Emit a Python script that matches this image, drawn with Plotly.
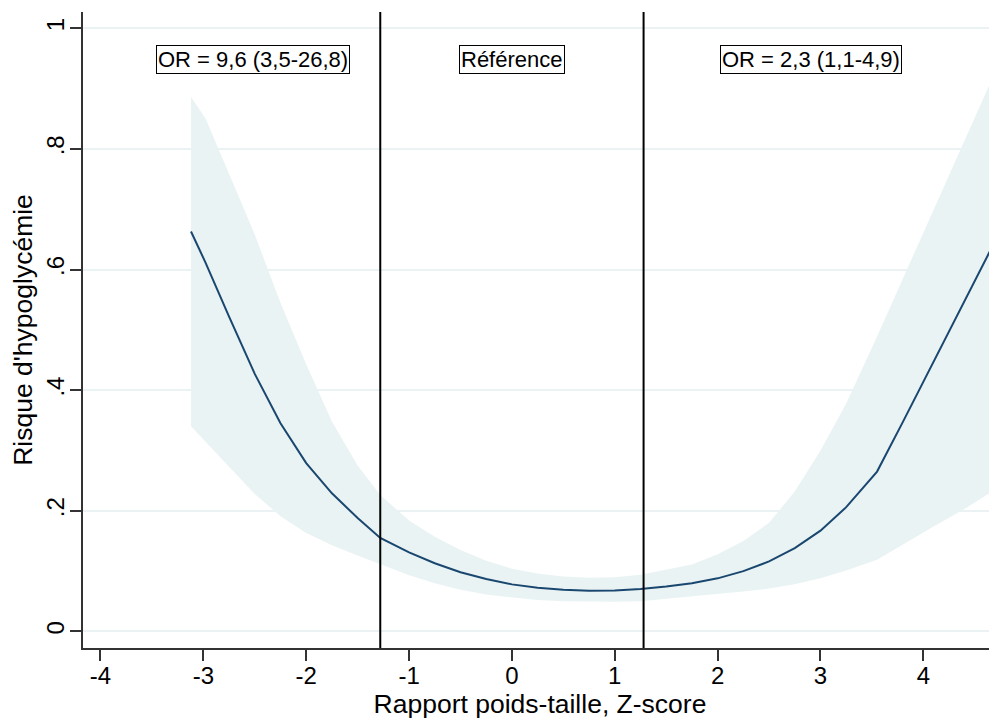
import plotly.graph_objects as go

# Z-score grid
z = [-3.12, -2.98, -2.75, -2.5, -2.25, -2.0, -1.75, -1.5, -1.28, -1.0, -0.75, -0.5,
     -0.25, 0.0, 0.25, 0.5, 0.75, 1.0, 1.25, 1.5, 1.75, 2.0, 2.25, 2.5, 2.75, 3.0,
     3.25, 3.55, 3.8, 4.1, 4.4, 4.67]
# predicted risk
risk = [0.663, 0.612, 0.522, 0.427, 0.345, 0.279, 0.229, 0.188, 0.155, 0.131, 0.113,
        0.098, 0.087, 0.078, 0.0725, 0.069, 0.0675, 0.068, 0.0705, 0.0745, 0.080,
        0.088, 0.100, 0.116, 0.138, 0.167, 0.206, 0.265, 0.347, 0.448, 0.548, 0.638]
# confidence bounds
upper = [0.886, 0.851, 0.759, 0.658, 0.545, 0.443, 0.348, 0.275, 0.226, 0.184, 0.157,
         0.135, 0.117, 0.104, 0.096, 0.091, 0.089, 0.090, 0.094, 0.102, 0.111, 0.128,
         0.150, 0.180, 0.232, 0.300, 0.378, 0.489, 0.585, 0.701, 0.815, 0.917]
lower = [0.340, 0.315, 0.273, 0.228, 0.191, 0.163, 0.143, 0.126, 0.111, 0.093, 0.080,
         0.069, 0.061, 0.056, 0.052, 0.050, 0.049, 0.049, 0.050, 0.053, 0.057, 0.062,
         0.066, 0.071, 0.078, 0.088, 0.101, 0.119, 0.144, 0.174, 0.203, 0.232]

cutoffs = [-1.28, 1.28]
labels = ["OR = 9,6 (3,5-26,8)", "Référence", "OR = 2,3 (1,1-4,9)"]
label_x = [-2.52, 0.0, 2.91]
label_y = 0.949

x_ticks = [-4, -3, -2, -1, 0, 1, 2, 3, 4]
x_ticktext = ["-4", "-3", "-2", "-1", "0", "1", "2", "3", "4"]
y_ticks = [0, 0.2, 0.4, 0.6, 0.8, 1]
y_ticktext = ["0", ".2", ".4", ".6", ".8", "1"]

band_color = "#eaf3f3"
line_color = "#1a476f"
font_family = "Liberation Sans, Arial, Helvetica, sans-serif"

fig = go.Figure()
fig.add_trace(go.Scatter(x=z + z[::-1], y=upper + lower[::-1], fill="toself",
                         fillcolor=band_color, line=dict(width=0), mode="lines",
                         hoverinfo="skip", showlegend=False))
fig.add_trace(go.Scatter(x=z, y=risk, mode="lines",
                         line=dict(color=line_color, width=2), showlegend=False))

for c in cutoffs:
    fig.add_shape(type="line", xref="x", yref="paper", x0=c, x1=c, y0=0, y1=1,
                  line=dict(color="black", width=2))

for t, xx in zip(labels, label_x):
    fig.add_annotation(x=xx, y=label_y, text=t, showarrow=False,
                       font=dict(size=22, color="black", family=font_family),
                       bordercolor="black", borderwidth=1, borderpad=1, bgcolor="white")

fig.update_layout(
    width=989, height=714,
    margin=dict(l=75, r=0, t=4, b=74),
    paper_bgcolor="white", plot_bgcolor="white",
    font=dict(family=font_family, size=22, color="black"),
    xaxis=dict(range=[-4.17, 4.716], tickvals=x_ticks, ticktext=x_ticktext,
               ticks="outside", ticklen=11,
               tickwidth=1.5, tickcolor="#333", showline=True, linecolor="#333",
               linewidth=1.5, showgrid=False, zeroline=False, automargin=False,
               tickfont=dict(size=24), ticklabelstandoff=-6,
               title=dict(text="Rapport poids-taille, Z-score", font=dict(size=26.5), standoff=6)),
    yaxis=dict(range=[-0.0275, 1.027], tickvals=y_ticks, ticktext=y_ticktext,
               ticks="outside", ticklen=11, tickwidth=1.5, tickcolor="#333",
               showline=True, linecolor="#333", linewidth=1.5, automargin=False,
               showgrid=True, gridcolor="#eaf2f3", gridwidth=1.5, zeroline=False,
               tickangle=-90, tickfont=dict(size=24), ticklabelstandoff=-3,
               title=dict(text="Risque d'hypoglycémie", font=dict(size=26.5), standoff=6)),
)

fig.write_html("out.html")
